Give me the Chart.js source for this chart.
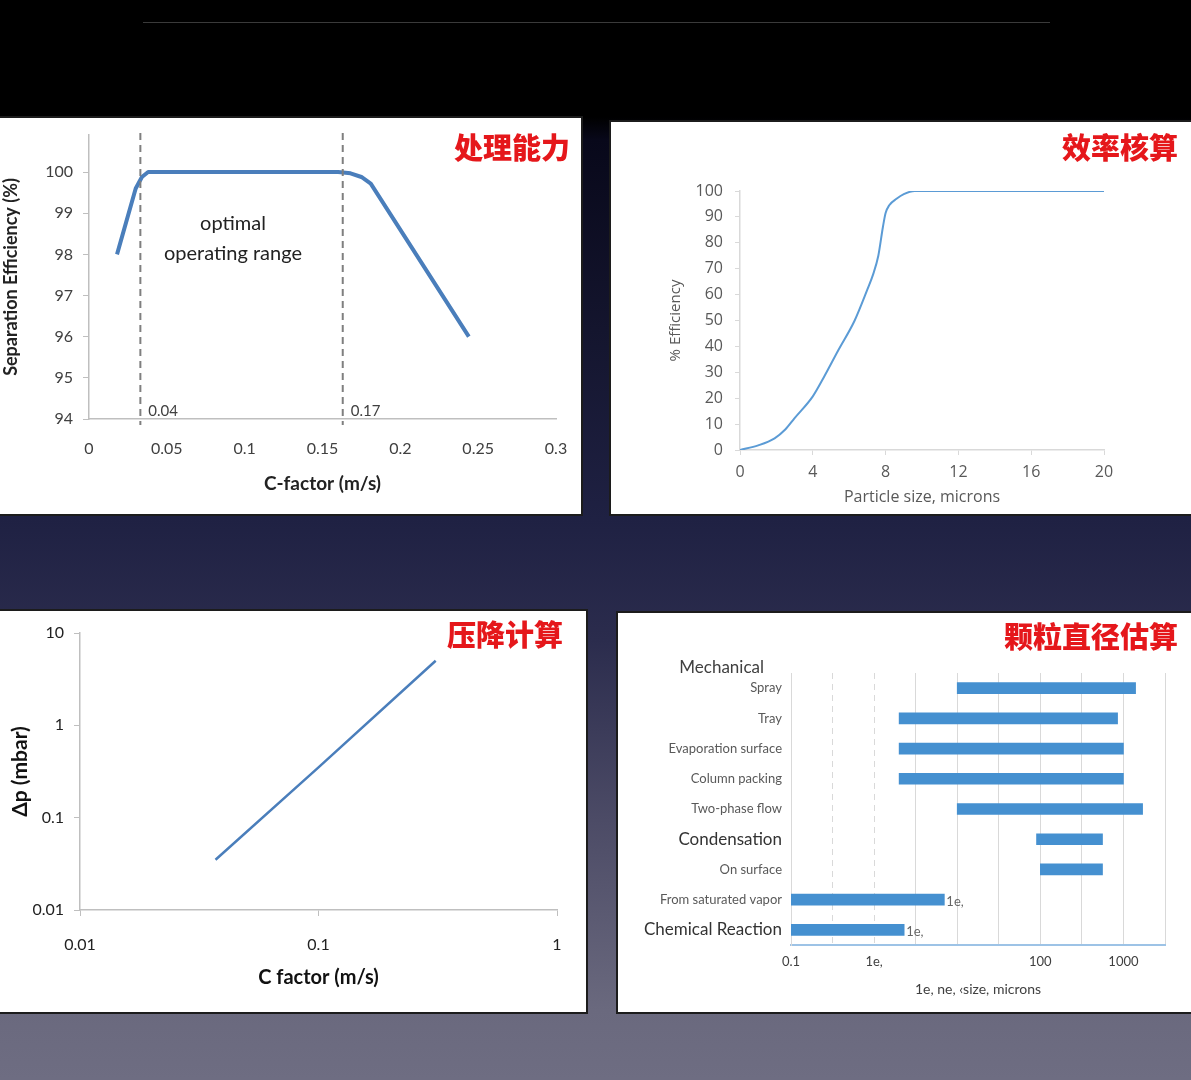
<!DOCTYPE html>
<html>
<head>
<meta charset="utf-8">
<script src="https://cdn.jsdelivr.net/npm/chart.js@4.4.0/dist/chart.umd.min.js"></script>
<style>
  html, body { margin: 0; padding: 0; }
  body {
    width: 1191px; height: 1080px; position: relative; overflow: hidden;
    background: linear-gradient(to bottom, #000 0, #000 117px, #08081a 140px, #14152e 330px,
      #1f2143 520px, #2b2c4d 640px, #4c4b66 820px, #6a697e 1010px, #6e6d82 1080px);
  }
  .rule { position: absolute; left: 143px; top: 22px; width: 907px; height: 1px; background: #3a3a3a; }
  .panel { position: absolute; background: #fff; box-shadow: 0 0 0 2px #1c1c1c; }
  .panel canvas { position: absolute; left: 0; top: 0; }
  .tag {
    position: absolute; color: #e5171b; font-family: "Noto Sans CJK SC";
    font-weight: 900; font-size: 29px; line-height: 1; white-space: nowrap;
  }
</style>
</head>
<body>
<div class="rule"></div>

<div class="panel" style="left:0;top:118px;width:581px;height:396px">
  <canvas id="capacity-chart" width="581" height="396"></canvas>
  <div class="tag" style="right:11px;top:14px">处理能力</div>
</div>
<div class="panel" style="left:611px;top:122px;width:580px;height:392px">
  <canvas id="efficiency-chart" width="580" height="392"></canvas>
  <div class="tag" style="right:13px;top:10px">效率核算</div>
</div>
<div class="panel" style="left:0;top:611px;width:586px;height:401px">
  <canvas id="pressure-chart" width="586" height="401"></canvas>
  <div class="tag" style="right:23px;top:8px">压降计算</div>
</div>
<div class="panel" style="left:618px;top:613px;width:573px;height:399px">
  <canvas id="droplet-chart" width="573" height="399"></canvas>
  <div class="tag" style="right:13px;top:8px">颗粒直径估算</div>
</div>

<script>
// Separation efficiency vs C-factor
const capX = [0.018, 0.030, 0.034, 0.038, 0.16, 0.168, 0.175, 0.181, 0.244];
const capY = [98, 99.6, 99.88, 100, 100, 99.97, 99.88, 99.72, 96];
const rangeMarks = [0.033, 0.163];
const rangeLabels = ['0.04', '0.17'];

// Efficiency vs particle size
const effX = [0, 1, 1.9, 2.5, 3, 4, 4.6, 5.4, 6.3, 7, 7.3, 7.6, 7.85, 8.0, 8.2, 8.6, 9, 9.6, 20];
const effY = [0, 1.8, 4.5, 8, 12.3, 20.7, 28, 38.5, 50, 62, 67.5, 75, 86, 91.5, 94.5, 97, 98.8, 100, 100];

// Pressure drop vs C factor (log-log)
const dpX = [0.037, 0.1, 0.31];
const dpY = [0.035, 0.35, 5];

// Droplet size ranges, microns
const sizeCats = ['Spray', 'Tray', 'Evaporation surface', 'Column packing', 'Two-phase flow',
  'Condensation', 'On surface', 'From saturated vapor', 'Chemical Reaction'];
const sizeLow = [10, 2, 2, 2, 10, 90, 100, 0.1, 0.1];
const sizeHigh = [1400, 850, 1000, 1000, 1700, 560, 560, 7, 2.3];
const headingCats = ['Condensation', 'Chemical Reaction'];
const sizeTicks = [0.1, 0.316, 1, 3.16, 10, 31.6, 100, 316, 1000, 3162.28];
const sizeTickLabels = ['0.1', '', '1e,', '', '', '', '100', '', '1000', ''];

Chart.defaults.font.family = 'Lato';
Chart.defaults.animation = false;
Chart.defaults.responsive = false;
Chart.defaults.plugins.legend.display = false;
Chart.defaults.plugins.tooltip.enabled = false;

const pairs = (xs, ys) => xs.map((x, i) => ({ x: x, y: ys[i] }));

// keep tick labels from pushing the plot area in
const fixHeight = h => s => { s.height = h; s.paddingLeft = 0; s.paddingRight = 0; };
const fixWidth = w => s => { s.width = w; s.paddingTop = 0; s.paddingBottom = 0; };

// dashed range markers and the text in the first chart
const capacityNotes = {
  id: 'capacityNotes',
  afterDatasetsDraw(chart) {
    const { ctx, chartArea, scales: { x, y } } = chart;
    ctx.save();
    rangeMarks.forEach((m, i) => {
      const px = x.getPixelForValue(m);
      ctx.strokeStyle = '#7f7f7f';
      ctx.lineWidth = 2;
      ctx.setLineDash([7, 5]);
      ctx.beginPath();
      ctx.moveTo(px, chartArea.top - 2);
      ctx.lineTo(px, chartArea.bottom + 6);
      ctx.stroke();
      ctx.font = '15px Lato';
      ctx.fillStyle = '#404040';
      ctx.textAlign = 'left';
      ctx.textBaseline = 'middle';
      ctx.fillText(rangeLabels[i], px + 8, chartArea.bottom - 8);
    });
    ctx.font = '20px Lato';
    ctx.fillStyle = '#222';
    ctx.textAlign = 'center';
    ctx.fillText('optimal', x.getPixelForValue(0.0925), y.getPixelForValue(98.74));
    ctx.fillText('operating range', x.getPixelForValue(0.0925), y.getPixelForValue(98.03));
    ctx.restore();
  }
};

new Chart(document.getElementById('capacity-chart'), {
  type: 'line',
  data: {
    datasets: [{
      data: pairs(capX, capY),
      borderColor: '#4a7ebb',
      borderWidth: 4,
      pointRadius: 0,
      tension: 0,
      borderJoinStyle: 'round'
    }]
  },
  options: {
    layout: { padding: { left: 0, right: 25, top: 17, bottom: 0 } },
    scales: {
      x: {
        type: 'linear', min: 0, max: 0.3,
        grid: { drawOnChartArea: false, drawTicks: false },
        border: { color: '#bfbfbf', width: 1.5 },
        ticks: {
          stepSize: 0.05, padding: 20, maxRotation: 0, color: '#404040', font: { size: 16 },
          callback: v => String(+v.toFixed(4))
        },
        title: { display: true, text: 'C-factor (m/s)', color: '#222',
          font: { size: 19, weight: 'bold' }, padding: { top: 0, bottom: 19 } },
        afterFit: fixHeight(95)
      },
      y: {
        min: 94, max: 100.9,
        grid: { drawOnChartArea: false, tickLength: 6, tickColor: '#bfbfbf' },
        border: { color: '#bfbfbf', width: 1.5 },
        ticks: { stepSize: 1, includeBounds: false, padding: 10, color: '#404040', font: { size: 16 } },
        title: { display: true, text: 'Separation Efficiency (%)', color: '#222',
          font: { size: 18, weight: 'bold' }, padding: { top: 0, bottom: 0 } },
        afterFit: fixWidth(89)
      }
    }
  },
  plugins: [capacityNotes]
});

new Chart(document.getElementById('efficiency-chart'), {
  type: 'line',
  data: {
    datasets: [{
      data: pairs(effX, effY),
      borderColor: '#5b9bd5',
      borderWidth: 2,
      pointRadius: 0,
      cubicInterpolationMode: 'monotone'
    }]
  },
  options: {
    layout: { padding: { left: 0, right: 87, top: 69, bottom: 0 } },
    scales: {
      x: {
        type: 'linear', min: 0, max: 20,
        grid: { drawOnChartArea: false, tickLength: 5, tickColor: '#d9d9d9' },
        border: { color: '#d9d9d9', width: 1.5 },
        ticks: { stepSize: 4, padding: 8, maxRotation: 0, color: '#595959',
          font: { family: 'Open Sans', size: 16 } },
        title: { display: true, text: 'Particle size, microns', color: '#595959',
          font: { family: 'Open Sans', size: 16 }, padding: { top: 0, bottom: 7 } },
        afterFit: fixHeight(64)
      },
      y: {
        min: 0, max: 100,
        grid: { drawOnChartArea: false, tickLength: 5, tickColor: '#d9d9d9' },
        border: { color: '#d9d9d9', width: 1.5 },
        ticks: { stepSize: 10, padding: 12, color: '#595959', font: { family: 'Open Sans', size: 16 } },
        title: { display: true, text: '% Efficiency', color: '#595959',
          font: { family: 'Open Sans', size: 15 }, padding: { top: 56, bottom: 0 } },
        afterFit: fixWidth(129)
      }
    }
  }
});

new Chart(document.getElementById('pressure-chart'), {
  type: 'line',
  data: {
    datasets: [{
      data: pairs(dpX, dpY),
      borderColor: '#4a7ebb',
      borderWidth: 2.5,
      pointRadius: 0
    }]
  },
  options: {
    layout: { padding: { left: 0, right: 29, top: 22, bottom: 0 } },
    scales: {
      x: {
        type: 'logarithmic', min: 0.01, max: 1,
        afterBuildTicks: s => { s.ticks = [0.01, 0.1, 1].map(v => ({ value: v })); },
        grid: { drawOnChartArea: false, tickLength: 6, tickColor: '#bfbfbf' },
        border: { color: '#bfbfbf', width: 1.5 },
        ticks: { padding: 19, autoSkip: false, maxRotation: 0, color: '#222', font: { size: 16 },
          callback: v => String(v) },
        title: { display: true, text: 'C factor (m/s)', color: '#111',
          font: { size: 20, weight: 'bold' }, padding: { top: 0, bottom: 22 } },
        afterFit: fixHeight(102)
      },
      y: {
        type: 'logarithmic', min: 0.01, max: 10,
        afterBuildTicks: s => { s.ticks = [0.01, 0.1, 1, 10].map(v => ({ value: v })); },
        grid: { drawOnChartArea: false, tickLength: 6, tickColor: '#bfbfbf' },
        border: { color: '#bfbfbf', width: 1.5 },
        ticks: { padding: 10, autoSkip: false, color: '#222', font: { size: 16 },
          callback: v => String(v) },
        title: { display: true, text: 'Δp (mbar)', color: '#111',
          font: { size: 21, weight: 'bold' }, padding: { top: 8, bottom: 0 } },
        afterFit: fixWidth(80)
      }
    }
  }
});

// group heading above the bars and the stray labels at two bar ends
const dropletNotes = {
  id: 'dropletNotes',
  afterDatasetsDraw(chart) {
    const { ctx, chartArea, scales: { x, y } } = chart;
    ctx.save();
    ctx.font = '17px Lato';
    ctx.fillStyle = '#404040';
    ctx.textAlign = 'right';
    ctx.textBaseline = 'middle';
    ctx.fillText('Mechanical', chartArea.left - 27, chartArea.top - 5);
    ctx.font = '13px Lato';
    ctx.fillStyle = '#666';
    ctx.textAlign = 'left';
    [7, 8].forEach(i => {
      ctx.fillText('1e,', x.getPixelForValue(sizeHigh[i]) + 2, y.getPixelForValue(i) + 2);
    });
    ctx.restore();
  }
};

new Chart(document.getElementById('droplet-chart'), {
  type: 'bar',
  data: {
    labels: sizeCats,
    datasets: [{
      data: sizeLow.map((lo, i) => [lo, sizeHigh[i]]),
      backgroundColor: '#4590d0',
      barThickness: 11,
      borderSkipped: false
    }]
  },
  options: {
    indexAxis: 'y',
    layout: { padding: { left: 0, right: 26, top: 60, bottom: 0 } },
    scales: {
      x: {
        type: 'logarithmic', min: 0.1, max: 3162.28,
        afterBuildTicks: s => { s.ticks = sizeTicks.map(v => ({ value: v })); },
        grid: { color: '#d9d9d9', drawTicks: false },
        border: {
          color: '#9dc3e6', width: 2,
          dash: ctx => (ctx.type === 'tick' && (ctx.index === 1 || ctx.index === 2)) ? [6, 5] : []
        },
        ticks: { padding: 9, autoSkip: false, maxRotation: 0, color: '#404040', font: { size: 13 },
          callback: (v, i) => sizeTickLabels[i] },
        title: { display: true, text: '1e, ne, ‹size, microns', color: '#404040',
          font: { size: 14 }, padding: { top: 0, bottom: 14 } },
        afterFit: fixHeight(67)
      },
      y: {
        grid: { display: false, drawTicks: false },
        border: { color: '#d9d9d9', width: 1 },
        ticks: {
          padding: 9,
          color: ctx => headingCats.includes(sizeCats[ctx.index]) ? '#333' : '#595959',
          font: ctx => ({ size: headingCats.includes(sizeCats[ctx.index]) ? 17 : 13 })
        },
        afterFit: fixWidth(173)
      }
    }
  },
  plugins: [dropletNotes]
});
</script>
</body>
</html>
